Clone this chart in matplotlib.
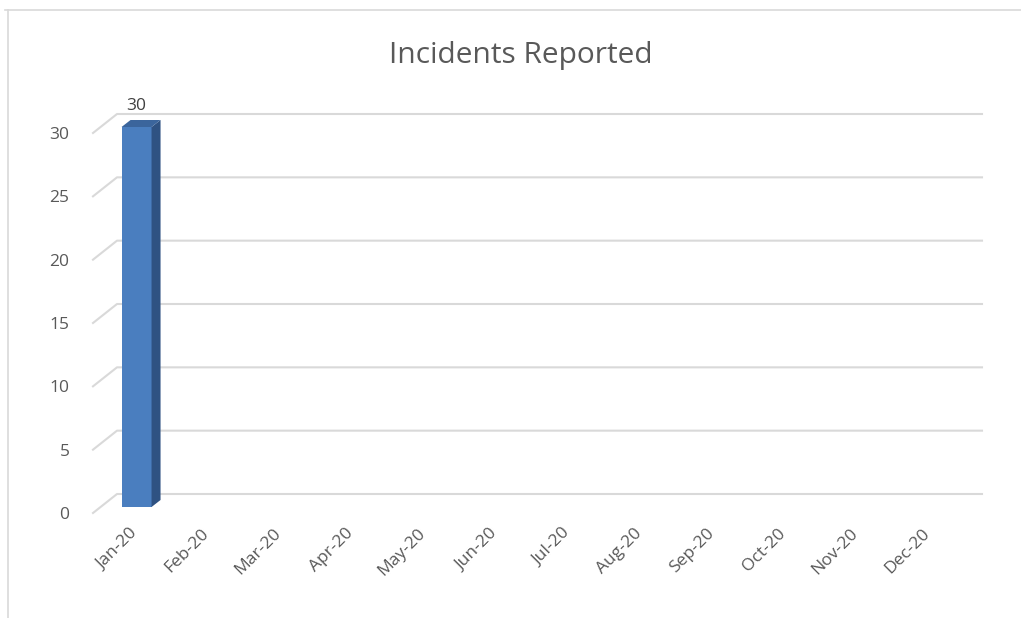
"""
    Incidents Reported - 3D style column chart
"""
import numpy as np
import matplotlib.pyplot as plt
from matplotlib.patches import Polygon, Rectangle

plt.rcParams['font.family'] = ['Open Sans', 'DejaVu Sans']

months = ["Jan-20", "Feb-20", "Mar-20", "Apr-20", "May-20", "Jun-20",
          "Jul-20", "Aug-20", "Sep-20", "Oct-20", "Nov-20", "Dec-20"]
incidents = [30, 0, 0, 0, 0, 0, 0, 0, 0, 0, 0, 0]
y_ticks = [0, 5, 10, 15, 20, 25, 30]

W, H = 1021, 618
fig = plt.figure(figsize=(W / 100, H / 100), dpi=100)

# chart frame
fig.add_artist(plt.Line2D([5 / W, 1], [1 - 10 / H, 1 - 10 / H], color='#d9d9d9', lw=1.2))
fig.add_artist(plt.Line2D([8 / W, 8 / W], [0, 1 - 10 / H], color='#d9d9d9', lw=1.2))

# plot area in pixels: front plane left/bottom, back plane right/top
left, right, bottom, top = 93, 982, 513, 114
ax = fig.add_axes([left / W, 1 - bottom / H, (right - left) / W, (bottom - top) / H])

n = len(months)
px_per_cat = (right - left - 24) / n
px_per_unit = (bottom - 19 - top) / 30
# depth of the floor and of the bars in data units
dx = 24 / px_per_cat
dy = 19 / px_per_unit
bdx = 9 / px_per_cat
bdy = 7 / px_per_unit
ox = (dx - bdx) / 2
oy = (dy - bdy) / 2
bw = 30 / px_per_cat

ax.set_xlim(-0.5, n - 0.5 + dx)
ax.set_ylim(0, 30 + dy)

grid_c = '#d9d9d9'
for t in y_ticks:
    ax.plot([-0.5, -0.5 + dx, n - 0.5 + dx], [t, t + dy, t + dy],
            color=grid_c, lw=1.5, clip_on=False, zorder=1)

x = np.arange(n)
for xi, v in zip(x, incidents):
    if v <= 0:
        continue
    x0 = xi - bw / 2 + ox
    x1 = x0 + bw
    y0 = oy
    y1 = v + oy
    ax.add_patch(Rectangle((x0, y0), bw, v, facecolor='#4a7ebf', edgecolor='none', zorder=3))
    ax.add_patch(Polygon([(x1, y0), (x1 + bdx, y0 + bdy), (x1 + bdx, y1 + bdy), (x1, y1)],
                         closed=True, facecolor='#2f5282', edgecolor='none', zorder=3))
    ax.add_patch(Polygon([(x0, y1), (x1, y1), (x1 + bdx, y1 + bdy), (x0 + bdx, y1 + bdy)],
                         closed=True, facecolor='#3b659c', edgecolor='none', zorder=3))
    ax.text(xi + ox, y1 + bdy + 0.5, str(v), ha='center', va='bottom',
            fontsize=12.5, color='#404040')

ax.set_yticks(y_ticks)
ax.set_yticklabels([str(t) for t in y_ticks])
ax.set_xticks(x)
ax.set_xticklabels(months, rotation=45, ha='right', rotation_mode='anchor')
ax.tick_params(axis='both', length=0, colors='#595959', labelsize=12.5)
ax.tick_params(axis='y', pad=17)
ax.tick_params(axis='x', pad=9)
for s in ax.spines.values():
    s.set_visible(False)

fig.text(521 / W, 1 - 55 / H, "Incidents Reported", ha='center', va='center',
         fontsize=21.5, color='#595959')

fig.savefig("out.png", dpi=100)
